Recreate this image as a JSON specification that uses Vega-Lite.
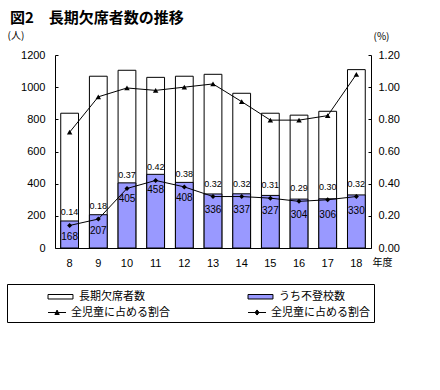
{
  "$schema": "https://vega.github.io/schema/vega-lite/v6.json",
  "width": 316,
  "height": 193,
  "autosize": {"type": "none"},
  "padding": {"left": 55, "top": 55, "right": 69, "bottom": 142},
  "background": "white",
  "config": {
    "view": {"stroke": null},
    "font": "Noto Sans CJK JP",
    "axis": {"domainColor": "black", "tickColor": "black", "labelColor": "black", "titleColor": "black", "grid": false, "labelFont": "Liberation Sans", "labelFontSize": 11, "titleFont": "Noto Sans CJK JP", "titleFontSize": 10, "titleFontWeight": "normal", "labelOverlap": false}
  },
  "title": {"text": "図2　長期欠席者数の推移", "fontSize": 15, "fontWeight": "bold", "font": "Noto Sans CJK JP", "anchor": "start", "frame": "group", "dx": -45, "color": "black"},
  "data": {"values": [
    {"year": 8, "total": 838, "futoko": 168, "total_ratio": 0.72, "futoko_ratio": 0.14},
    {"year": 9, "total": 1068, "futoko": 207, "total_ratio": 0.94, "futoko_ratio": 0.18},
    {"year": 10, "total": 1105, "futoko": 405, "total_ratio": 0.995, "futoko_ratio": 0.37},
    {"year": 11, "total": 1061, "futoko": 458, "total_ratio": 0.98, "futoko_ratio": 0.42},
    {"year": 12, "total": 1068, "futoko": 408, "total_ratio": 1.0, "futoko_ratio": 0.38},
    {"year": 13, "total": 1080, "futoko": 336, "total_ratio": 1.02, "futoko_ratio": 0.32},
    {"year": 14, "total": 962, "futoko": 337, "total_ratio": 0.91, "futoko_ratio": 0.32},
    {"year": 15, "total": 838, "futoko": 327, "total_ratio": 0.795, "futoko_ratio": 0.31},
    {"year": 16, "total": 826, "futoko": 304, "total_ratio": 0.795, "futoko_ratio": 0.29},
    {"year": 17, "total": 850, "futoko": 306, "total_ratio": 0.823, "futoko_ratio": 0.30},
    {"year": 18, "total": 1109, "futoko": 330, "total_ratio": 1.08, "futoko_ratio": 0.32}
  ]},
  "encoding": {
    "x": {"field": "year", "type": "ordinal", "scale": {"paddingInner": 0.38, "paddingOuter": 0.2},
      "axis": {"title": "年度", "titleX": 317, "titleY": 14, "titleAlign": "left", "titleBaseline": "middle", "titleAngle": 0, "ticks": false, "labelAngle": 0, "labelBaseline": "middle", "labelPadding": 15}}
  },
  "layer": [
    {
      "layer": [
        {
          "mark": {"type": "bar", "stroke": "black", "strokeWidth": 1},
          "encoding": {
            "y": {"field": "total", "type": "quantitative", "scale": {"domain": [0, 1200]},
              "axis": {"title": "(人)", "titleAngle": 0, "titleX": -48, "titleY": -20, "titleAlign": "left", "titleBaseline": "middle", "values": [0, 200, 400, 600, 800, 1000, 1200], "tickCount": 7, "tickSize": -3, "labelPadding": 13, "format": "d", "labelOverlap": false, "labelBound": false}},
            "fill": {"datum": "長期欠席者数", "type": "nominal",
              "scale": {"domain": ["長期欠席者数", "うち不登校数", "全児童に占める割合1", "全児童に占める割合2"], "range": ["white", "#9999FF", "black", "black"]},
              "legend": {
                "orient": "none", "legendX": -48, "legendY": 229, "direction": "horizontal",
                "columns": 2, "columnPadding": 76, "rowPadding": 2, "padding": 4,
                "strokeColor": "black", "fillColor": "white",
                "title": " ", "titleOrient": "left", "titleFontSize": 1, "titlePadding": 36,
                "symbolSize": 256, "symbolOffset": 5, "labelOffset": 10,
                "symbolStrokeColor": "black", "symbolStrokeWidth": 1,
                "labelFont": "Noto Sans CJK JP", "labelFontSize": 11, "labelColor": "black", "labelLimit": 200,
                "labelExpr": "datum.value == '全児童に占める割合1' ? '全児童に占める割合' : (datum.value == '全児童に占める割合2' ? '全児童に占める割合\u3000\u3000\u3000' : datum.label)",
                "encode": {
                  "symbols": {"update": {
                    "shape": {"signal": "datum.value == '全児童に占める割合1' ? 'M-1.56,0H0.69M-0.7,0.25L-0.43,-0.3L-0.16,0.25Z' : (datum.value == '全児童に占める割合2' ? 'M-1.56,0H0.69M-0.43,-0.32L-0.18,0L-0.43,0.32L-0.68,0Z' : 'M-1.56,-0.28H1.56V0.28H-1.56Z')"},
                    "stroke": {"value": "black"},
                    "strokeWidth": {"value": 1}
                  }},
                  "labels": {"update": {
                    "dx": {"signal": "indexof(datum.value, '全児童') == 0 ? -8 : 0"}
                  }}
                }
              }
            }
          }
        },
        {
          "mark": {"type": "bar", "stroke": "black", "strokeWidth": 1},
          "encoding": {
            "y": {"field": "futoko", "type": "quantitative"},
            "fill": {"datum": "うち不登校数", "type": "nominal"}
          }
        },
        {
          "mark": {"type": "text", "fontSize": 10, "dy": 16, "baseline": "middle", "font": "Liberation Sans", "color": "black"},
          "encoding": {
            "y": {"field": "futoko", "type": "quantitative"},
            "text": {"field": "futoko", "type": "quantitative"}
          }
        }
      ]
    },
    {
      "layer": [
        {
          "mark": {"type": "line", "color": "black", "strokeWidth": 1},
          "encoding": {
            "y": {"field": "total_ratio", "type": "quantitative", "scale": {"domain": [0, 1.2]},
              "axis": {"orient": "right", "title": "(%)", "titleAngle": 0, "titleX": 2, "titleY": -19, "titleAlign": "left", "titleBaseline": "middle", "values": [0, 0.2, 0.4, 0.6, 0.8, 1.0, 1.2], "tickCount": 7, "tickSize": -3, "labelPadding": 10, "format": ".2f", "labelOverlap": false, "labelBound": false}}
          }
        },
        {
          "mark": {"type": "point", "shape": "triangle-up", "filled": true, "color": "black", "size": 30, "opacity": 1},
          "encoding": {"y": {"field": "total_ratio", "type": "quantitative"}}
        },
        {
          "mark": {"type": "line", "color": "black", "strokeWidth": 1},
          "encoding": {"y": {"field": "futoko_ratio", "type": "quantitative"}}
        },
        {
          "mark": {"type": "point", "shape": "diamond", "filled": true, "color": "black", "size": 25, "opacity": 1},
          "encoding": {"y": {"field": "futoko_ratio", "type": "quantitative"}}
        },
        {
          "mark": {"type": "text", "fontSize": 9, "dy": -13, "baseline": "middle", "font": "Liberation Sans", "color": "black"},
          "encoding": {
            "y": {"field": "futoko_ratio", "type": "quantitative"},
            "text": {"field": "futoko_ratio", "type": "quantitative", "format": ".2f"}
          }
        }
      ]
    }
  ],
  "resolve": {"scale": {"y": "independent"}}
}
